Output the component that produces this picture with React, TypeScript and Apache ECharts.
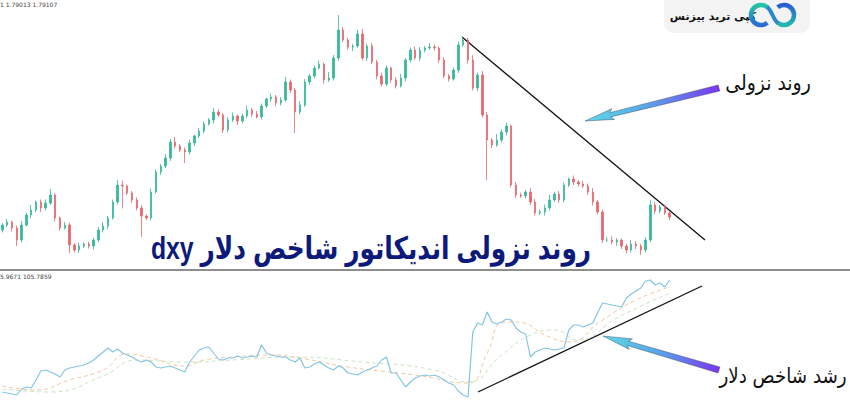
import React, { useEffect, useRef } from "react";
import * as echarts from "echarts";

// Price panel: closes (open = previous close), wick extensions in 1e-4 units
const firstOpen = 1.708;
const closes = [
  1.7100, 1.7112, 1.7088, 1.7040, 1.7100, 1.7140, 1.7160, 1.7192, 1.7168, 1.7188,
  1.7220, 1.7128, 1.7088, 1.7100, 1.7020, 1.7000, 1.7016, 1.7024, 1.7016, 1.7040,
  1.7080, 1.7096, 1.7128, 1.7192, 1.7260, 1.7256, 1.7228, 1.7200, 1.7168, 1.7136,
  1.7128, 1.7232, 1.7312, 1.7336, 1.7368, 1.7432, 1.7416, 1.7400, 1.7392, 1.7428,
  1.7456, 1.7476, 1.7504, 1.7520, 1.7552, 1.7540, 1.7480, 1.7520, 1.7536, 1.7516,
  1.7536, 1.7560, 1.7544, 1.7532, 1.7576, 1.7604, 1.7612, 1.7588, 1.7600, 1.7672,
  1.7640, 1.7552, 1.7580, 1.7672, 1.7696, 1.7728, 1.7744, 1.7680, 1.7688, 1.7768,
  1.7880, 1.7840, 1.7812, 1.7816, 1.7864, 1.7768, 1.7816, 1.7752, 1.7696, 1.7664,
  1.7728, 1.7680, 1.7656, 1.7688, 1.7760, 1.7800, 1.7768, 1.7800, 1.7808, 1.7812,
  1.7808, 1.7760, 1.7696, 1.7684, 1.7720, 1.7820, 1.7840, 1.7760, 1.7648, 1.7700,
  1.7540, 1.7440, 1.7420, 1.7440, 1.7472, 1.7496, 1.7260, 1.7220, 1.7216, 1.7232,
  1.7192, 1.7148, 1.7152, 1.7168, 1.7200, 1.7224, 1.7200, 1.7260, 1.7284, 1.7272,
  1.7264, 1.7256, 1.7232, 1.7192, 1.7152, 1.7040, 1.7040, 1.7032, 1.7040, 1.7016,
  1.7000, 1.7024, 1.7016, 1.7000, 1.7040, 1.7180, 1.7156, 1.7172, 1.7148, 1.7132,
];
const wickUp = [
  8, 12, 6, 10, 16, 8, 20, 6, 10, 14,
  24, 8, 6, 12, 10, 8, 14, 6, 10, 8,
  12, 16, 8, 10, 20, 18, 6, 8, 10, 12,
  6, 14, 10, 8, 16, 12, 20, 8, 10, 14,
  6, 12, 10, 8, 16, 10, 8, 12, 14, 6,
  10, 18, 8, 12, 10, 6, 14, 8, 12, 20,
  10, 8, 16, 12, 8, 10, 14, 6, 24, 12,
  60, 12, 10, 8, 16, 20, 10, 12, 8, 14,
  10, 6, 12, 16, 8, 10, 14, 12, 8, 16,
  10, 6, 12, 8, 10, 14, 16, 8, 20, 10,
  16, 12, 8, 24, 10, 14, 6, 12, 10, 8,
  16, 12, 10, 14, 20, 8, 12, 10, 6, 14,
  8, 12, 10, 16, 8, 10, 12, 14, 8, 6,
  10, 16, 12, 8, 10, 20, 12, 8, 10, 6,
];
const wickDown = [
  10, 8, 14, 24, 10, 6, 12, 8, 16, 10,
  8, 14, 10, 6, 32, 10, 12, 8, 10, 14,
  8, 10, 12, 6, 10, 90, 8, 12, 10, 84,
  8, 10, 6, 12, 8, 12, 10, 8, 44, 10,
  12, 8, 10, 6, 14, 8, 12, 10, 8, 16,
  10, 8, 12, 6, 10, 8, 12, 14, 10, 6,
  12, 84, 10, 8, 12, 10, 6, 14, 8, 10,
  12, 8, 10, 16, 8, 10, 12, 8, 14, 10,
  8, 12, 10, 6, 14, 10, 8, 12, 10, 8,
  10, 12, 8, 10, 6, 12, 8, 14, 10, 12,
  10, 160, 12, 8, 10, 14, 10, 12, 8, 10,
  12, 10, 8, 14, 10, 8, 12, 10, 8, 12,
  10, 8, 12, 14, 10, 12, 8, 10, 16, 12,
  14, 10, 12, 20, 10, 8, 12, 10, 8, 12,
];

// Dollar index panel
const dxyValues = [
  100.40, 100.35, 100.30, 100.25, 100.55, 100.65, 100.60, 101.00, 101.45, 101.50,
  101.40, 101.30, 101.15, 101.50, 101.60, 101.65, 101.70, 101.75, 101.85, 102.00,
  102.20, 102.40, 102.60, 102.40, 102.55, 102.35, 102.25, 102.15, 102.00, 101.90,
  102.00, 101.90, 101.65, 101.60, 101.65, 101.70, 101.60, 101.50, 101.40, 101.90,
  102.20, 102.50, 102.60, 102.65, 102.35, 102.05, 102.00, 102.10, 102.10, 102.20,
  102.10, 102.15, 102.20, 102.15, 102.75, 102.35, 102.25, 102.20, 102.15, 102.15,
  102.00, 101.90, 102.10, 101.60, 101.65, 101.80, 101.90, 101.75, 101.60, 101.50,
  101.70, 101.60, 101.35, 101.30, 101.25, 101.40, 101.50, 101.60, 101.70, 102.00,
  102.15, 101.35, 101.35, 101.00, 100.65, 100.90, 101.10, 101.20, 101.25, 101.20,
  101.25, 101.15, 101.00, 100.85, 100.75, 100.45, 100.25, 100.15, 103.40, 103.85,
  103.75, 104.40, 103.90, 103.80, 103.90, 104.05, 104.00, 103.60, 103.40, 103.30,
  102.15, 102.40, 102.50, 102.60, 102.55, 102.50, 102.55, 102.60, 103.50, 103.75,
  103.75, 103.65, 103.75, 103.85, 104.35, 104.85, 104.80, 104.75, 104.70, 104.65,
  105.10, 105.30, 105.45, 105.60, 105.95, 106.00, 105.75, 105.85, 105.65, 106.00,
];
const maFast = [
  [0, 100.70], [7, 100.50], [14, 101.00], [21, 101.50], [26, 102.30], [31, 102.10],
  [38, 101.70], [42, 102.00], [48, 102.15], [56, 102.25], [62, 102.10], [72, 101.65],
  [86, 101.25], [97, 100.85], [101, 102.35], [104, 103.85], [107, 103.90], [114, 103.15],
  [118, 102.90], [125, 104.00], [132, 105.00], [139, 105.65],
];
const maSlow = [
  [0, 100.55], [10, 100.40], [21, 101.20], [28, 102.00], [38, 101.90], [48, 102.00],
  [60, 102.15], [75, 101.90], [90, 101.50], [97, 100.90], [104, 102.25], [110, 103.25],
  [115, 103.50], [120, 103.00], [128, 104.10], [139, 105.35],
];

const categories = closes.map((_, i) => String(i + 1));

const TITLE = "dxy روند نزولی اندیکاتور شاخص دلار";
const LABEL_DOWN = "روند نزولی";
const LABEL_UP = "رشد شاخص دلار";
const BRAND = "کپی ترید بیزنس";

function arrowPoints(tail: number[], tip: number[], wTail: number, wShaft: number, wHead: number, headLen: number) {
  const dx = tip[0] - tail[0];
  const dy = tip[1] - tail[1];
  const L = Math.hypot(dx, dy);
  const ux = dx / L, uy = dy / L;
  const nx = -uy, ny = ux;
  const bx = tip[0] - ux * headLen, by = tip[1] - uy * headLen;
  const back = 3;
  return [
    [tail[0] + nx * wTail, tail[1] + ny * wTail],
    [bx + nx * wShaft, by + ny * wShaft],
    [bx - ux * back + nx * wHead, by - uy * back + ny * wHead],
    [tip[0], tip[1]],
    [bx - ux * back - nx * wHead, by - uy * back - ny * wHead],
    [bx - nx * wShaft, by - ny * wShaft],
    [tail[0] - nx * wTail, tail[1] - ny * wTail],
  ];
}

const arrowFill = () =>
  new echarts.graphic.LinearGradient(0, 0, 1, 0, [
    { offset: 0, color: "#5cdbe4" },
    { offset: 0.5, color: "#5aa0e8" },
    { offset: 1, color: "#7a35f2" },
  ]);

export default function App() {
  const ref = useRef<HTMLDivElement>(null);
  useEffect(() => {
    if (!ref.current) return;
    const chart = echarts.init(ref.current, undefined, { renderer: "svg" });
    const candles = closes.map((c, i) => {
      const o = i === 0 ? firstOpen : closes[i - 1];
      const hi = Math.max(o, c) + wickUp[i] / 10000;
      const lo = Math.min(o, c) - wickDown[i] / 10000;
      return [o, c, lo, hi];
    });
    const persian = "'DejaVu Sans', sans-serif";
    chart.setOption({
      animation: false,
      backgroundColor: "#ffffff",
      grid: [
        { left: 0, right: 178, top: 0, height: 262 },
        { left: 0, right: 178, top: 272, height: 128 },
      ],
      xAxis: [
        { type: "category", data: categories, gridIndex: 0, show: false, boundaryGap: true },
        { type: "category", data: categories, gridIndex: 1, show: false, boundaryGap: true },
      ],
      yAxis: [
        { type: "value", gridIndex: 0, min: 1.6952, max: 1.8, show: false },
        { type: "value", gridIndex: 1, min: 100, max: 106.4, show: false },
      ],
      series: [
        {
          type: "candlestick",
          xAxisIndex: 0,
          yAxisIndex: 0,
          data: candles,
          barWidth: 2,
          silent: true,
          itemStyle: {
            color: "#36b99b",
            color0: "#e8676c",
            borderColor: "#36b99b",
            borderColor0: "#e8676c",
            borderWidth: 0.8,
          },
        },
        {
          type: "line",
          xAxisIndex: 1,
          yAxisIndex: 1,
          data: maSlow,
          smooth: true,
          symbol: "none",
          silent: true,
          lineStyle: { color: "#c8e6c2", width: 1, type: [4, 3] },
        },
        {
          type: "line",
          xAxisIndex: 1,
          yAxisIndex: 1,
          data: maFast,
          smooth: true,
          symbol: "none",
          silent: true,
          lineStyle: { color: "#f3c6a2", width: 1, type: [4, 3] },
        },
        {
          type: "line",
          xAxisIndex: 1,
          yAxisIndex: 1,
          data: dxyValues,
          symbol: "none",
          silent: true,
          lineStyle: { color: "#86c5e4", width: 1.2 },
        },
      ],
      graphic: [
        { type: "rect", shape: { x: 0, y: 269, width: 850, height: 2 }, style: { fill: "#8e8e8e" }, silent: true },
        { type: "text", x: 0, y: 1, style: { text: "1 1.79013 1.79107", fontSize: 6, fill: "#444", fontFamily: persian } },
        { type: "text", x: 0, y: 273, style: { text: "5.9671 105.7859", fontSize: 6, fill: "#444", fontFamily: persian } },
        { type: "line", shape: { x1: 462, y1: 37, x2: 705, y2: 240 }, style: { stroke: "#111", lineWidth: 1.3 } },
        { type: "line", shape: { x1: 478, y1: 392, x2: 702, y2: 286 }, style: { stroke: "#111", lineWidth: 1.3 } },
        {
          type: "polygon",
          shape: { points: arrowPoints([719, 88], [585, 121], 3.2, 2.2, 5.5, 26) },
          style: { fill: arrowFill(), stroke: "rgba(40,40,70,0.55)", lineWidth: 0.7 },
        },
        {
          type: "polygon",
          shape: { points: arrowPoints([719, 370], [603, 336], 3.2, 2.2, 5.5, 26) },
          style: { fill: arrowFill(), stroke: "rgba(40,40,70,0.55)", lineWidth: 0.7 },
        },
        {
          type: "text",
          x: 768,
          y: 83,
          scaleX: 0.9,
          style: { text: LABEL_DOWN, fontSize: 21, fill: "#111", fontFamily: persian, align: "center", verticalAlign: "middle" },
        },
        {
          type: "text",
          x: 783,
          y: 376,
          scaleX: 0.87,
          style: { text: LABEL_UP, fontSize: 21, fill: "#111", fontFamily: persian, align: "center", verticalAlign: "middle" },
        },
        {
          type: "text",
          x: 371,
          y: 249,
          scaleX: 0.8,
          style: {
            text: TITLE,
            fontSize: 31,
            fontWeight: "bold",
            fill: "#0d1a7c",
            fontFamily: "'Liberation Sans', 'DejaVu Sans', sans-serif",
            align: "center",
            verticalAlign: "middle",
          },
        },
        { type: "rect", shape: { x: 664, y: -10, width: 146, height: 43, r: 10 }, style: { fill: "#f3f3f3" } },
        {
          type: "text",
          x: 713,
          y: 16,
          style: { text: BRAND, fontSize: 11, fontWeight: "bold", fill: "#111", fontFamily: persian, align: "center", verticalAlign: "middle" },
        },
        {
          type: "arc",
          shape: { cx: 761, cy: 15, r: 10, startAngle: Math.PI * 0.28, endAngle: Math.PI * 1.72, clockwise: true },
          style: {
            fill: "none",
            lineWidth: 4.5,
            stroke: new echarts.graphic.LinearGradient(0, 0, 0, 1, [
              { offset: 0, color: "#21c7a3" },
              { offset: 1, color: "#2b6ad6" },
            ]),
          },
        },
        {
          type: "arc",
          shape: { cx: 784, cy: 15, r: 10, startAngle: Math.PI * 1.28, endAngle: Math.PI * 0.72, clockwise: true },
          style: {
            fill: "none",
            lineWidth: 4.5,
            stroke: new echarts.graphic.LinearGradient(0, 0, 0, 1, [
              { offset: 0, color: "#2a5fd3" },
              { offset: 1, color: "#23b9b0" },
            ]),
          },
        },
        {
          type: "bezierCurve",
          shape: { x1: 767, y1: 7, cpx1: 772, cpy1: 10, cpx2: 773, cpy2: 20, x2: 778, y2: 23 },
          style: { fill: "none", stroke: "#2a86cf", lineWidth: 4 },
        },
      ],
    });
    return () => chart.dispose();
  }, []);
  return (
    <div
      ref={ref}
      style={{ position: "fixed", left: 0, top: 0, width: 850, height: 400, background: "#fff" }}
    />
  );
}
